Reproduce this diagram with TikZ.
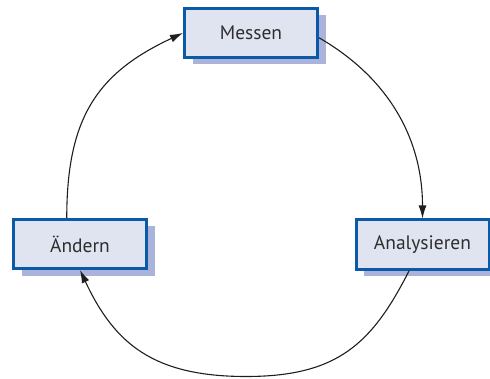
\documentclass[tikz,border=0pt]{standalone}
\usepackage{fontspec}
\setmainfont{PT Sans}
\usetikzlibrary{arrows.meta,shadows}
\definecolor{boxfill}{HTML}{E0E4F1}
\definecolor{boxline}{HTML}{0A5AA8}
\definecolor{boxshade}{HTML}{AAB4DA}
\definecolor{txt}{HTML}{2E2E2E}
\definecolor{arcline}{HTML}{1E1E1E}
\begin{document}
\begin{tikzpicture}[x=1pt,y=1pt,
  stagebox/.style={draw=boxline, line width=3pt, fill=boxfill,
    minimum width=133pt, minimum height=49pt, inner sep=0pt,
    text=txt, font=\fontsize{19.5}{21}\selectfont,
    drop shadow={shadow xshift=8pt, shadow yshift=-7pt, fill=boxshade, opacity=1, draw=none}},
  cycle arc/.style={draw=arcline, line width=1.1pt,
    -{Latex[length=13pt,width=8pt]}}]
  \useasboundingbox (0,0) rectangle (490,378);
  \node[stagebox] (messen) at (251,345) {Messen};
  \node[stagebox] (analys) at (422.5,133.5) {Analysieren};
  \node[stagebox] (aendern) at (80,134) {Ändern};
  % lowest point of the return arc
  \coordinate (arcbottom) at (246,1.5);
  \draw[cycle arc] (aendern.117)
    to[out=90, in=205, out distance=100pt, in distance=95pt] (messen.west);
  \draw[cycle arc] (messen.-4)
    to[out=-30, in=90, out distance=80pt, in distance=80pt] (analys.north);
  \draw[cycle arc] (analys.-117)
    to[out=243, in=0, out distance=82pt, in distance=92pt] (arcbottom)
    to[out=180, in=295, out distance=92pt, in distance=82pt] (aendern.south);
\end{tikzpicture}
\end{document}
